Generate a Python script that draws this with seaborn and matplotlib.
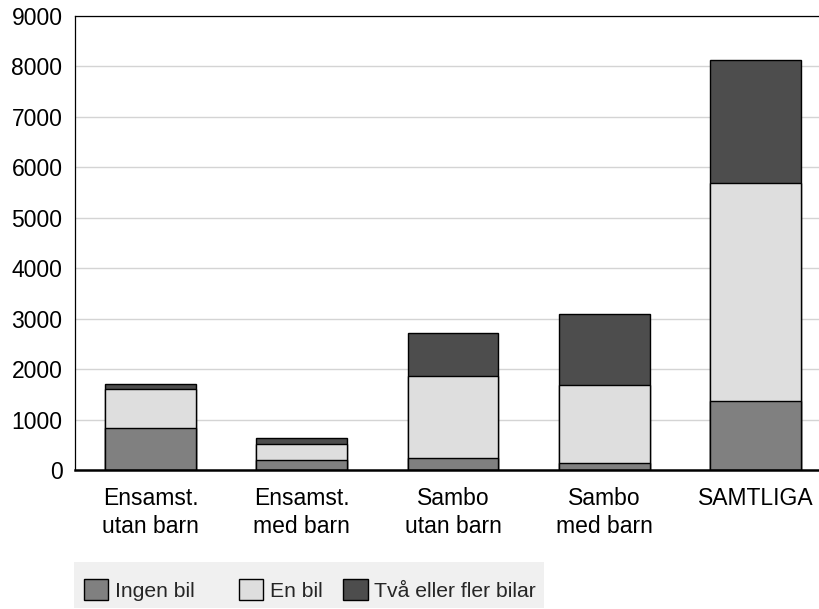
"""
Stacked bars: households by number of cars
"""

import pandas as pd
import numpy as np
import seaborn as sns
import matplotlib.pyplot as plt
from matplotlib.patches import Rectangle

sns.set_style('white')
plt.rcParams['font.family'] = ['Liberation Sans', 'DejaVu Sans']

# data
categories = ['Ensamst.\nutan barn', 'Ensamst.\nmed barn', 'Sambo\nutan barn',
              'Sambo\nmed barn', 'SAMTLIGA']
ingen_bil = [830, 200, 240, 140, 1370]
en_bil = [780, 320, 1625, 1550, 4325]
tva_bilar = [95, 115, 855, 1410, 2440]
series = ['Ingen bil', 'En bil', 'Två eller fler bilar']
colors = ['#808080', '#dedede', '#4d4d4d']

df = pd.DataFrame({'kategori': categories,
                   'Ingen bil': ingen_bil,
                   'En bil': en_bil,
                   'Två eller fler bilar': tva_bilar})
# cumulative tops, drawn tallest first so the lower segments sit on top
cum = df[series].cumsum(axis=1)
cum['kategori'] = df['kategori']

W, H = 820, 609
fig = plt.figure(figsize=(W/100, H/100), dpi=100)
ax = fig.add_axes([75/W, 139/H, 756/W, 454/H])

for name, col in reversed(list(zip(series, colors))):
    sns.barplot(data=cum, x='kategori', y=name, color=col, width=0.6,
                edgecolor='black', linewidth=1.0, saturation=1, ax=ax, zorder=3)

fs = 16.5
ax.set_ylim(0, 9000)
ax.set_xlim(-0.5, 4.5)
ax.set_yticks(np.arange(0, 9001, 1000))
ax.set_xlabel('')
ax.set_ylabel('')
ax.yaxis.grid(True, color='#d4d4d4', linewidth=1.0, zorder=0)
ax.set_axisbelow(True)
ax.tick_params(axis='both', length=0, labelsize=fs, colors='black')
ax.tick_params(axis='y', pad=9)
ax.tick_params(axis='x', pad=12)
for lab in ax.get_xticklabels():
    lab.set_linespacing(1.3)

for s in ['left', 'top', 'right']:
    ax.spines[s].set_color('black')
    ax.spines[s].set_linewidth(0.9)
ax.spines['bottom'].set_color('black')
ax.spines['bottom'].set_linewidth(1.8)
ax.spines['bottom'].set_zorder(5)

# grey legend band
fig.patches.append(Rectangle((74/W, 1/H), 470/W, 46/H, transform=fig.transFigure,
                             facecolor='#f0f0f0', edgecolor='none', zorder=0))

handles = [Rectangle((0, 0), 1, 1, facecolor=c, edgecolor='black', linewidth=1.0)
           for c in colors]
labels = ['Ingen bil    ', 'En bil', 'Två eller fler bilar']
leg = fig.legend(handles, labels, loc='center left', bbox_to_anchor=(84/W, 19/H),
                 ncol=3, frameon=False, fontsize=15.2, borderpad=0, borderaxespad=0,
                 handlelength=1.14, handleheight=1.14, handletextpad=0.33,
                 columnspacing=0.98)

plt.savefig('out.png', dpi=100)
